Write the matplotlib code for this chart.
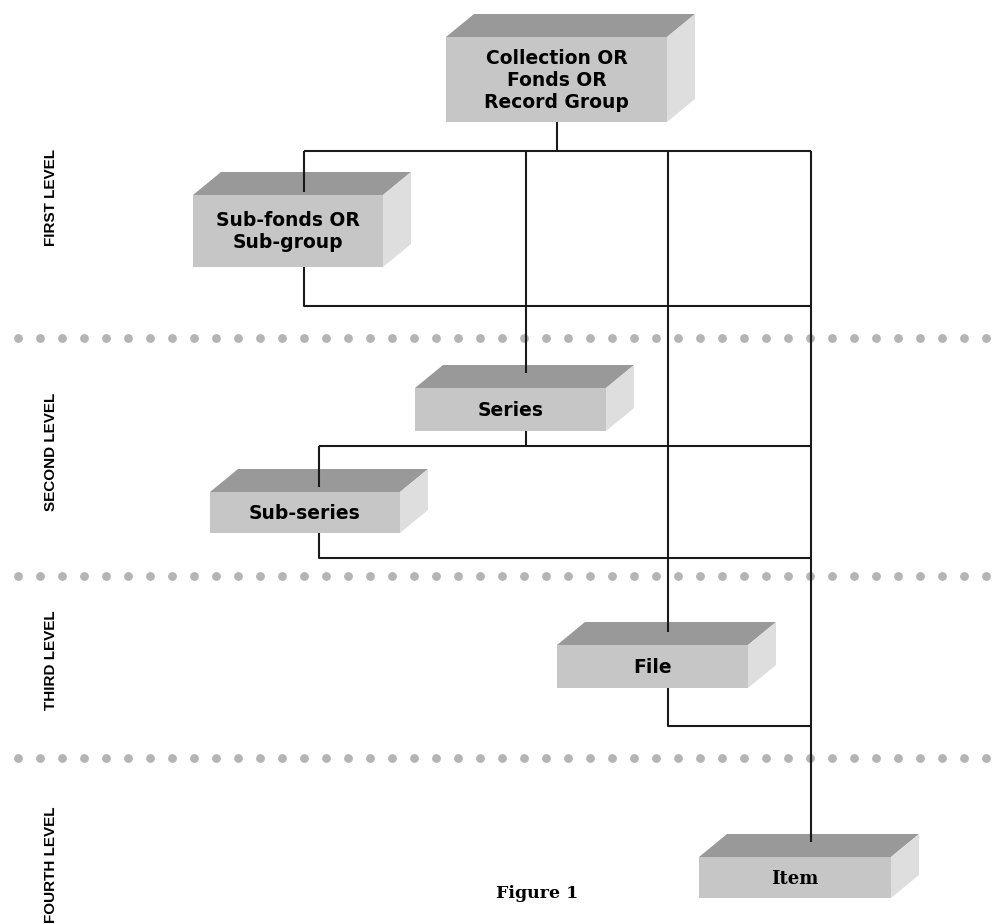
import numpy as np
import matplotlib.pyplot as plt
from matplotlib.patches import Polygon

# box labels and where their front faces sit (pixel coords, y down)
box_labels = ["Collection OR\nFonds OR\nRecord Group", "Sub-fonds OR\nSub-group",
              "Series", "Sub-series", "File", "Item"]
box_x = [446, 193, 415, 210, 557, 699]
box_y = [37, 195, 388, 492, 645, 857]
box_w = [221, 190, 191, 190, 191, 192]
box_h = [85, 72, 43, 41, 43, 41]

level_labels = ["FIRST LEVEL", "SECOND LEVEL", "THIRD LEVEL", "FOURTH LEVEL"]
level_y = [197, 452, 660, 865]
separator_y = [338, 576, 758]

# connector polylines
connectors = [
    [(557, 122), (557, 151)],
    [(304, 151), (811, 151)],
    [(304, 151), (304, 192)],
    [(526, 151), (526, 373)],
    [(668, 151), (668, 632)],
    [(811, 151), (811, 842)],
    [(304, 267), (304, 306), (811, 306)],
    [(526, 431), (526, 446)],
    [(319, 446), (811, 446)],
    [(319, 446), (319, 487)],
    [(319, 533), (319, 558), (811, 558)],
    [(668, 688), (668, 726), (811, 726)],
]

DX, DY = 28, -23
FRONT, TOP, SIDE = "#c6c6c6", "#999999", "#dedede"

fig = plt.figure(figsize=(9.92, 9.24), dpi=100)
ax = fig.add_axes([0, 0, 1, 1])
ax.set_xlim(0, 992)
ax.set_ylim(924, 0)
ax.axis("off")

# dotted separators
dot_x = np.arange(18, 992, 22)
for sy in separator_y:
    ax.scatter(dot_x, np.full(len(dot_x), sy), s=40, marker="o", color="#b4b4b4",
               linewidths=0, zorder=1)

# 3D boxes
for label, x, y, w, h in zip(box_labels, box_x, box_y, box_w, box_h):
    top = [(x, y), (x + w, y), (x + w + DX, y + DY), (x + DX, y + DY)]
    side = [(x + w, y), (x + w + DX, y + DY), (x + w + DX, y + h + DY), (x + w, y + h)]
    ax.add_patch(Polygon(top, closed=True, facecolor=TOP, edgecolor="none", zorder=2))
    ax.add_patch(Polygon(side, closed=True, facecolor=SIDE, edgecolor="none", zorder=2))
    ax.add_patch(plt.Rectangle((x, y), w, h, facecolor=FRONT, edgecolor="none", zorder=2))
    if label == "Item":
        ax.text(x + w / 2, y + h / 2 + 1, label, ha="center", va="center",
                family="DejaVu Serif", fontsize=13, fontweight="bold", zorder=4)
    else:
        ax.text(x + w / 2, y + h / 2 + 1, label, ha="center", va="center",
                fontsize=13.5, fontweight="bold", linespacing=1.2, zorder=4)

# connectors
for pts in connectors:
    xs, ys = zip(*pts)
    ax.plot(xs, ys, color="#1a1a1a", linewidth=1.5, solid_capstyle="butt", zorder=3)

# level labels on the left
for label, ly in zip(level_labels, level_y):
    ax.text(51, ly, label, rotation=90, ha="center", va="center",
            family="Liberation Sans", fontsize=11, fontweight="bold")

ax.text(537, 893, "Figure 1", ha="center", va="center", family="DejaVu Serif",
        fontsize=12.5, fontweight="bold")

fig.savefig("out.png", dpi=100)
